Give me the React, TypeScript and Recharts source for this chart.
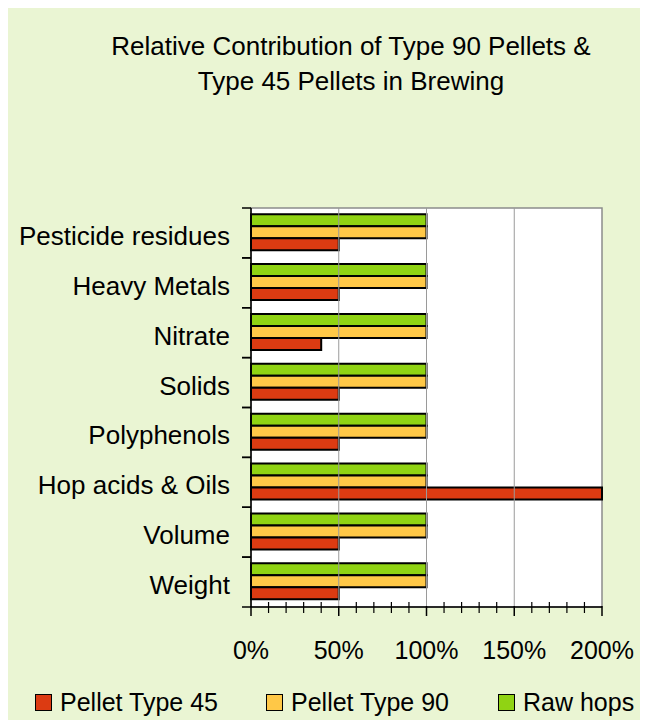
import { BarChart, Bar, XAxis, YAxis, ReferenceArea, ReferenceLine } from 'recharts'

const categories = [
  'Pesticide residues',
  'Heavy Metals',
  'Nitrate',
  'Solids',
  'Polyphenols',
  'Hop acids & Oils',
  'Volume',
  'Weight',
]
const type45 = [50, 50, 40, 50, 50, 200, 50, 50]
const type90 = [100, 100, 100, 100, 100, 100, 100, 100]
const rawHops = [100, 100, 100, 100, 100, 100, 100, 100]
const xTicks = [0, 10, 20, 30, 40, 50, 60, 70, 80, 90, 100, 110, 120, 130, 140, 150, 160, 170, 180, 190, 200]
const gridAt = [50, 100, 150]

const RED = '#DC3B12'
const ORANGE = '#FFC847'
const GREEN = '#90D313'
const BG = '#EAF5D3'
const FONT = '"Liberation Sans", Arial, sans-serif'

const W = 632
const H = 712
const TOP = 200
const AXIS_X = 243
const AXIS_Y = 599
const BAND = (AXIS_Y - TOP) / categories.length

const data = categories.map((name, i) => ({
  name,
  raw: rawHops[i],
  t90: type90[i],
  t45: type45[i],
}))

const legendItems = [
  { label: 'Pellet Type 45', color: RED, left: 27 },
  { label: 'Pellet Type 90', color: ORANGE, left: 258 },
  { label: 'Raw hops', color: GREEN, left: 490 },
]

function YTick(props: any) {
  const { y, payload } = props
  return (
    <g>
      <line x1={AXIS_X - 9} x2={AXIS_X} y1={y - BAND / 2} y2={y - BAND / 2} stroke="#000" strokeWidth={1.5} />
      <line x1={AXIS_X - 9} x2={AXIS_X} y1={y + BAND / 2} y2={y + BAND / 2} stroke="#000" strokeWidth={1.5} />
      <text x={AXIS_X - 21} y={y} dy={12} textAnchor="end" fontSize={26} fontFamily={FONT} fill="#000">
        {payload.value}
      </text>
    </g>
  )
}

function XTick(props: any) {
  const { x, payload } = props
  const major = payload.value % 50 === 0
  return (
    <g>
      {major ? (
        <line x1={x} x2={x} y1={AXIS_Y - 1} y2={AXIS_Y + 9} stroke="#000" strokeWidth={1.5} />
      ) : (
        <line x1={x} x2={x} y1={AXIS_Y - 5} y2={AXIS_Y + 6} stroke="#000" strokeWidth={1.2} />
      )}
      {major && (
        <text x={x} y={AXIS_Y + 52} textAnchor="middle" fontSize={25} fontFamily={FONT} fill="#000">
          {`${payload.value}%`}
        </text>
      )}
    </g>
  )
}

export default function App() {
  return (
    <div style={{ position: 'relative', width: W, height: H, background: BG, fontFamily: FONT }}>
      <div
        style={{
          position: 'absolute',
          top: 21,
          left: 43,
          width: 600,
          textAlign: 'center',
          fontSize: 26,
          lineHeight: '35px',
          color: '#000',
          whiteSpace: 'nowrap',
        }}
      >
        Relative Contribution of Type 90 Pellets &amp;
        <br />
        Type 45 Pellets in Brewing
      </div>
      <BarChart
        width={W}
        height={H}
        data={data}
        layout="vertical"
        margin={{ top: TOP, right: 38, left: 0, bottom: 63 }}
        barCategoryGap="12.5%"
        barGap={0}
      >
        <ReferenceArea x1={0} x2={200} fill="#FFFFFF" fillOpacity={1} stroke="#8C8C8C" strokeWidth={1.5} ifOverflow="visible" />
        {gridAt.map((v) => (
          <ReferenceLine key={v} x={v} stroke="#9A9A9A" strokeWidth={1} />
        ))}
        <XAxis
          type="number"
          domain={[0, 200]}
          ticks={xTicks}
          interval={0}
          height={50}
          axisLine={{ stroke: '#000', strokeWidth: 1.5 }}
          tickLine={false}
          tick={<XTick />}
        />
        <YAxis
          type="category"
          dataKey="name"
          width={AXIS_X}
          interval={0}
          axisLine={{ stroke: '#000', strokeWidth: 1.5 }}
          tickLine={false}
          tick={<YTick />}
        />
        <Bar dataKey="raw" name="Raw hops" fill={GREEN} stroke="#000" strokeWidth={2} isAnimationActive={false} />
        <Bar dataKey="t90" name="Pellet Type 90" fill={ORANGE} stroke="#000" strokeWidth={2} isAnimationActive={false} />
        <Bar dataKey="t45" name="Pellet Type 45" fill={RED} stroke="#000" strokeWidth={2} isAnimationActive={false} />
      </BarChart>
      {legendItems.map((it) => (
        <div
          key={it.label}
          style={{
            position: 'absolute',
            left: it.left,
            top: 680,
            display: 'flex',
            alignItems: 'center',
            fontSize: 25,
            color: '#000',
            whiteSpace: 'nowrap',
          }}
        >
          <span
            style={{
              display: 'inline-block',
              width: 15,
              height: 15,
              background: it.color,
              border: '1.5px solid #000',
              marginRight: 8,
            }}
          />
          {it.label}
        </div>
      ))}
    </div>
  )
}
